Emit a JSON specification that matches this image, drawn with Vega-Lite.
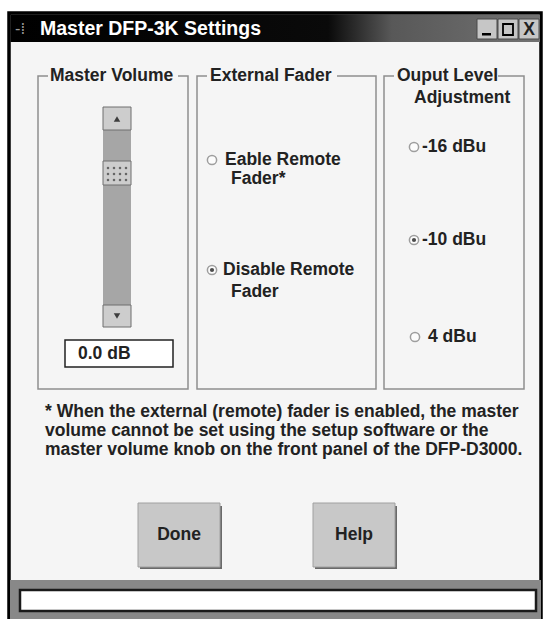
{
  "$schema": "https://vega.github.io/schema/vega-lite/v6.json",
  "width": 547,
  "height": 619,
  "padding": 0,
  "autosize": {"type": "none"},
  "background": "white",
  "config": {"view": {"stroke": null}, "text": {"font": "Liberation Sans"}},
  "datasets": {
    "rects": [
      {"kind": "window", "x": 9, "x2": 541, "y": 13, "y2": 630},
      {"kind": "group", "x": 38, "x2": 188, "y": 76, "y2": 389},
      {"kind": "group", "x": 197, "x2": 376, "y": 76, "y2": 389},
      {"kind": "group", "x": 384, "x2": 524, "y": 76, "y2": 389},
      {"kind": "labelbg", "x": 48, "x2": 178, "y": 66, "y2": 86},
      {"kind": "labelbg", "x": 207, "x2": 337, "y": 66, "y2": 86},
      {"kind": "labelbg", "x": 394, "x2": 498, "y": 66, "y2": 86},
      {"kind": "trough", "x": 103, "x2": 131, "y": 107, "y2": 327},
      {"kind": "scrollbutton", "x": 103, "x2": 131, "y": 107, "y2": 130},
      {"kind": "scrollbutton", "x": 103, "x2": 131, "y": 161, "y2": 185},
      {"kind": "scrollbutton", "x": 103, "x2": 131, "y": 305, "y2": 327},
      {"kind": "textbox", "x": 65, "x2": 173, "y": 340, "y2": 367},
      {"kind": "winbutton", "x": 477, "x2": 497, "y": 19, "y2": 39},
      {"kind": "winbutton", "x": 498, "x2": 518, "y": 19, "y2": 39},
      {"kind": "winbutton", "x": 519, "x2": 539, "y": 19, "y2": 39},
      {"kind": "shadow", "x": 140, "x2": 222, "y": 506, "y2": 569},
      {"kind": "shadow", "x": 315, "x2": 397, "y": 506, "y2": 569},
      {"kind": "button", "x": 138, "x2": 220, "y": 503, "y2": 567},
      {"kind": "button", "x": 313, "x2": 395, "y": 503, "y2": 567},
      {"kind": "statusband", "x": 10, "x2": 541, "y": 580, "y2": 630},
      {"kind": "statusbox", "x": 20, "x2": 536, "y": 590, "y2": 611},
      {"kind": "glyph", "x": 482, "x2": 491, "y": 33, "y2": 35.5},
      {"kind": "glyphbox", "x": 503, "x2": 513, "y": 24, "y2": 35}
    ],
    "titlebar": [{"x": 10.5, "x2": 540, "y": 14.5, "y2": 42}],
    "dots": [
      {"x": 108, "y": 168}, {"x": 114, "y": 168}, {"x": 120, "y": 168}, {"x": 126, "y": 168},
      {"x": 108, "y": 174}, {"x": 114, "y": 174}, {"x": 120, "y": 174}, {"x": 126, "y": 174},
      {"x": 108, "y": 180}, {"x": 114, "y": 180}, {"x": 120, "y": 180}, {"x": 126, "y": 180}
    ],
    "arrows": [
      {"dir": "up", "x": 117, "y": 119},
      {"dir": "down", "x": 117, "y": 316}
    ],
    "radios": [
      {"option": "Enable Remote Fader", "x": 212, "y": 160, "selected": false},
      {"option": "Disable Remote Fader", "x": 212, "y": 270, "selected": true},
      {"option": "-16 dBu", "x": 414, "y": 147, "selected": false},
      {"option": "-10 dBu", "x": 414, "y": 240, "selected": true},
      {"option": "4 dBu", "x": 415, "y": 337, "selected": false}
    ],
    "texts": [
      {"text": "Master Volume", "x": 50, "y": 76},
      {"text": "External Fader", "x": 210, "y": 76},
      {"text": "Ouput Level", "x": 397, "y": 76},
      {"text": "Adjustment", "x": 414, "y": 98},
      {"text": "Eable Remote", "x": 225, "y": 160},
      {"text": "Fader*", "x": 231, "y": 179},
      {"text": "Disable Remote", "x": 223, "y": 270},
      {"text": "Fader", "x": 231, "y": 292},
      {"text": "-16 dBu", "x": 422, "y": 147},
      {"text": "-10 dBu", "x": 422, "y": 240},
      {"text": "4 dBu", "x": 428, "y": 337},
      {"text": "0.0 dB", "x": 78, "y": 354},
      {"text": "* When the external (remote) fader is enabled, the master", "x": 45, "y": 412},
      {"text": "volume cannot be set using the setup software or the", "x": 45, "y": 431},
      {"text": "master volume knob on the front panel of the DFP-D3000.", "x": 45, "y": 450}
    ],
    "centered": [
      {"text": "Done", "x": 179, "y": 535},
      {"text": "Help", "x": 354, "y": 535},
      {"text": "X", "x": 529, "y": 30}
    ],
    "title": [
      {"text": "Master DFP-3K Settings", "x": 40, "y": 29}
    ],
    "icon": [
      {"text": "-\u205e", "x": 15, "y": 29}
    ]
  },
  "encoding": {
    "x": {"field": "x", "type": "quantitative", "scale": {"domain": [0, 547], "nice": false, "zero": false}, "axis": null},
    "y": {"field": "y", "type": "quantitative", "scale": {"domain": [0, 619], "nice": false, "zero": false, "reverse": true}, "axis": null}
  },
  "layer": [
    {"data": {"name": "rects"}, "transform": [{"filter": "datum.kind == 'window'"}],
     "mark": {"type": "rect", "fill": "#f5f5f5", "stroke": "#000000", "strokeWidth": 3.5},
     "encoding": {"x2": {"field": "x2"}, "y2": {"field": "y2"}}},
    {"data": {"name": "titlebar"},
     "mark": {"type": "rect", "fill": {"gradient": "linear", "x1": 0, "y1": 0, "x2": 1, "y2": 0,
        "stops": [{"offset": 0, "color": "#000000"}, {"offset": 0.6, "color": "#0a0a0a"}, {"offset": 0.72, "color": "#585858"}, {"offset": 1, "color": "#727272"}]}},
     "encoding": {"x2": {"field": "x2"}, "y2": {"field": "y2"}}},
    {"data": {"name": "rects"}, "transform": [{"filter": "datum.kind == 'group'"}],
     "mark": {"type": "rect", "fillOpacity": 0, "stroke": "#8e8e8e", "strokeWidth": 1.5},
     "encoding": {"x2": {"field": "x2"}, "y2": {"field": "y2"}}},
    {"data": {"name": "rects"}, "transform": [{"filter": "datum.kind == 'labelbg'"}],
     "mark": {"type": "rect", "fill": "#f5f5f5", "strokeWidth": 0},
     "encoding": {"x2": {"field": "x2"}, "y2": {"field": "y2"}}},
    {"data": {"name": "rects"}, "transform": [{"filter": "datum.kind == 'trough'"}],
     "mark": {"type": "rect", "fill": "#a6a6a6", "strokeWidth": 0},
     "encoding": {"x2": {"field": "x2"}, "y2": {"field": "y2"}}},
    {"data": {"name": "rects"}, "transform": [{"filter": "datum.kind == 'scrollbutton'"}],
     "mark": {"type": "rect", "fill": "#cdcdcd", "stroke": "#6e6e6e", "strokeWidth": 1},
     "encoding": {"x2": {"field": "x2"}, "y2": {"field": "y2"}}},
    {"data": {"name": "rects"}, "transform": [{"filter": "datum.kind == 'textbox'"}],
     "mark": {"type": "rect", "fill": "#ffffff", "stroke": "#222222", "strokeWidth": 1.5},
     "encoding": {"x2": {"field": "x2"}, "y2": {"field": "y2"}}},
    {"data": {"name": "rects"}, "transform": [{"filter": "datum.kind == 'winbutton'"}],
     "mark": {"type": "rect", "fill": "#c6c6c6", "stroke": "#4a4a4a", "strokeWidth": 1},
     "encoding": {"x2": {"field": "x2"}, "y2": {"field": "y2"}}},
    {"data": {"name": "rects"}, "transform": [{"filter": "datum.kind == 'shadow'"}],
     "mark": {"type": "rect", "fill": "#6a6a6a", "strokeWidth": 0},
     "encoding": {"x2": {"field": "x2"}, "y2": {"field": "y2"}}},
    {"data": {"name": "rects"}, "transform": [{"filter": "datum.kind == 'button'"}],
     "mark": {"type": "rect", "fill": "#c8c8c8", "stroke": "#a0a0a0", "strokeWidth": 1},
     "encoding": {"x2": {"field": "x2"}, "y2": {"field": "y2"}}},
    {"data": {"name": "rects"}, "transform": [{"filter": "datum.kind == 'statusband'"}],
     "mark": {"type": "rect", "fill": "#888888", "strokeWidth": 0},
     "encoding": {"x2": {"field": "x2"}, "y2": {"field": "y2"}}},
    {"data": {"name": "rects"}, "transform": [{"filter": "datum.kind == 'statusbox'"}],
     "mark": {"type": "rect", "fill": "#ffffff", "stroke": "#1a1a1a", "strokeWidth": 2.5},
     "encoding": {"x2": {"field": "x2"}, "y2": {"field": "y2"}}},
    {"data": {"name": "rects"}, "transform": [{"filter": "datum.kind == 'glyph'"}],
     "mark": {"type": "rect", "fill": "#000000", "strokeWidth": 0},
     "encoding": {"x2": {"field": "x2"}, "y2": {"field": "y2"}}},
    {"data": {"name": "rects"}, "transform": [{"filter": "datum.kind == 'glyphbox'"}],
     "mark": {"type": "rect", "fillOpacity": 0, "stroke": "#000000", "strokeWidth": 1.8},
     "encoding": {"x2": {"field": "x2"}, "y2": {"field": "y2"}}},
    {"data": {"name": "dots"},
     "mark": {"type": "point", "shape": "square", "filled": true, "color": "#3a3a3a", "size": 5}},
    {"data": {"name": "arrows"},
     "mark": {"type": "point", "filled": true, "color": "#000000", "size": 42},
     "encoding": {"shape": {"field": "dir", "type": "nominal", "scale": {"domain": ["up", "down"], "range": ["triangle-up", "triangle-down"]}, "legend": null}}},
    {"data": {"name": "radios"},
     "mark": {"type": "point", "shape": "circle", "filled": false, "fill": "#ffffff", "stroke": "#7a7a7a", "strokeWidth": 1.5, "size": 85}},
    {"data": {"name": "radios"}, "transform": [{"filter": "datum.selected"}],
     "mark": {"type": "point", "shape": "circle", "filled": true, "color": "#000000", "size": 18}},
    {"data": {"name": "texts"},
     "mark": {"type": "text", "align": "left", "baseline": "middle", "fontSize": 17.5, "fontWeight": "bold", "color": "#222222"},
     "encoding": {"text": {"field": "text"}}},
    {"data": {"name": "centered"},
     "mark": {"type": "text", "align": "center", "baseline": "middle", "fontSize": 17.5, "fontWeight": "bold", "color": "#222222"},
     "encoding": {"text": {"field": "text"}}},
    {"data": {"name": "title"},
     "mark": {"type": "text", "align": "left", "baseline": "middle", "fontSize": 19.5, "fontWeight": "bold", "color": "#ffffff"},
     "encoding": {"text": {"field": "text"}}},
    {"data": {"name": "icon"},
     "mark": {"type": "text", "align": "left", "baseline": "middle", "fontSize": 15, "font": "DejaVu Sans", "color": "#9a9a9a"},
     "encoding": {"text": {"field": "text"}}}
  ]
}
